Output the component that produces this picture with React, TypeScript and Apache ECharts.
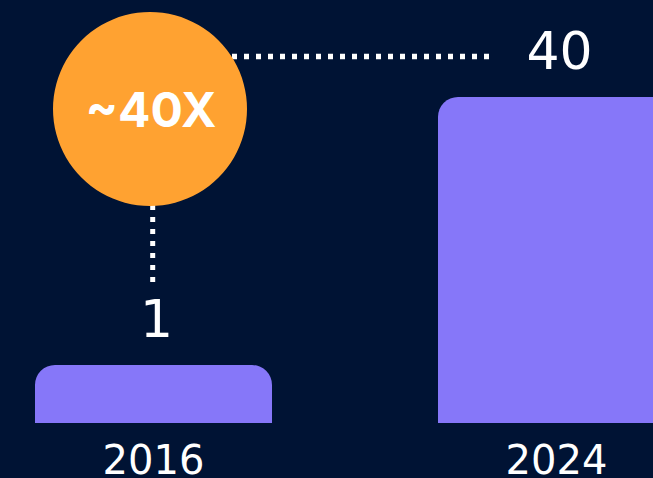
import React, { useEffect, useRef } from "react";
import * as echarts from "echarts";

const years = ["2016", "2024"];
const values = [1, 40];
const multiplierText = "~40X";

const BG = "#001334";
const BAR = "#8677F9";
const ORANGE = "#FFA231";

export default function App() {
  const ref = useRef<HTMLDivElement>(null);
  useEffect(() => {
    document.body.style.margin = "0";
    document.body.style.background = BG;
    const chart = echarts.init(ref.current!, null, { renderer: "svg" });
    const axisMin = -7.44;
    chart.setOption({
      animation: false,
      backgroundColor: BG,
      grid: {
        left: -48,
        width: 806,
        top: 97,
        bottom: 55,
        containLabel: false,
        outerBoundsMode: "none",
      },
      xAxis: {
        type: "category",
        data: years,
        axisLine: { show: false },
        axisTick: { show: false },
        axisLabel: {
          color: "#ffffff",
          fontFamily: "DejaVu Sans",
          fontSize: 40,
          lineHeight: 40,
          margin: 17,
        },
      },
      yAxis: {
        type: "value",
        min: axisMin,
        max: 40,
        startValue: axisMin,
        show: false,
        splitLine: { show: false },
      },
      series: [
        {
          type: "bar",
          data: values,
          barWidth: 237,
          itemStyle: { color: BAR, borderRadius: [20, 20, 0, 0] },
          label: {
            show: true,
            position: "top",
            distance: 20,
            color: "#ffffff",
            fontFamily: "DejaVu Sans",
            fontSize: 52,
            lineHeight: 52,
            offset: [3, 0],
          },
        },
      ],
      graphic: [
        {
          type: "line",
          shape: { x1: 232, y1: 56.5, x2: 490, y2: 56.5 },
          style: { stroke: "#ffffff", lineWidth: 5.5, lineDash: [5, 7], lineCap: "butt" },
          z: 1,
        },
        {
          type: "line",
          shape: { x1: 152.7, y1: 205, x2: 152.7, y2: 284 },
          style: { stroke: "#ffffff", lineWidth: 5, lineDash: [5, 7], lineCap: "butt" },
          z: 1,
        },
        {
          type: "circle",
          shape: { cx: 150, cy: 109, r: 97 },
          style: { fill: ORANGE },
          z: 2,
        },
        {
          type: "text",
          x: 151,
          y: 109,
          style: {
            text: multiplierText,
            fill: "#ffffff",
            font: "bold 48px Inter",
            textAlign: "center",
            textVerticalAlign: "middle",
          },
          z: 3,
        },
      ],
    });
    return () => chart.dispose();
  }, []);
  return <div ref={ref} style={{ width: 653, height: 478 }} />;
}
